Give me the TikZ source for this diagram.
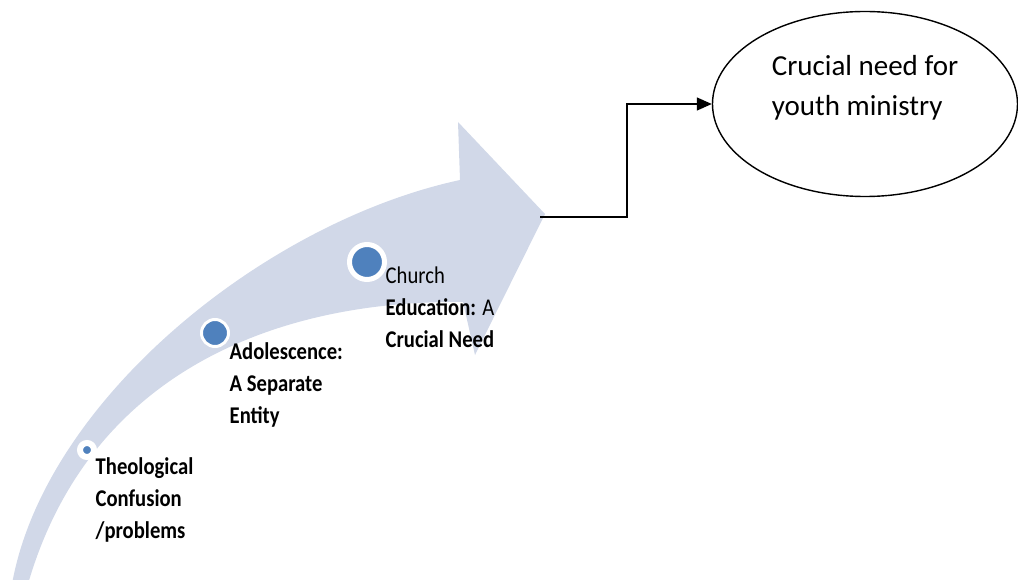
\documentclass[tikz,border=0pt]{standalone}
\usepackage{fontspec}
\setmainfont{Carlito}
\newfontfamily\stepfont[FakeStretch=0.86]{Carlito}
\usetikzlibrary{shapes.geometric,arrows.meta}
\definecolor{swoosh}{RGB}{209,216,232}
\definecolor{dotblue}{RGB}{79,129,189}

\begin{document}
\begin{tikzpicture}[x=1pt, y=-1pt, line width=1.4pt,
        dot/.style={circle, fill=dotblue, draw=white, inner sep=0pt},
        steplabel/.style={anchor=north west, align=left, inner sep=0pt,
            font={\stepfont\bfseries\fontsize{24}{32}\selectfont}},
        needlabel/.style={align=left, inner sep=0pt,
            font={\fontsize{29}{40}\selectfont}}]
        \useasboundingbox (0,0) rectangle (1018,580);
        \fill[swoosh] (12,584) .. controls (45,400) and (265,222) .. (460,180)
                -- (458,122) -- (545,214) -- (475,355) -- (463,302)
                .. controls (280,300) and (90,370) .. (28,584) -- cycle;
        \node[dot, minimum size=14pt, line width=6pt] (c1) at (87,450) {};
        \node[dot, minimum size=27pt, line width=3pt] (c2) at (215,333) {};
        \node[dot, minimum size=35pt, line width=5pt] (c3) at (367,262) {};
        \node[steplabel] (t1) at (95,457) {Theological\\Confusion\\/problems};
        \node[steplabel] (t2) at (229,342) {Adolescence:\\A Separate\\Entity};
        \node[steplabel] (t3) at (385,266) {{\mdseries Church}\\Education: {\mdseries A}\\Crucial Need};
        \node[ellipse, draw, minimum width=305pt, minimum height=185pt, inner sep=0pt] (need) at (865,104) {};
        \node[needlabel] (needtext) at ([yshift=16pt]need.center) {Crucial need for\\youth ministry};
        \coordinate (tip) at (540,217);
        \draw[-{Triangle[length=15pt,width=13pt]}] (tip) -- (627,217) |- (need.west);
\end{tikzpicture}
\end{document}
